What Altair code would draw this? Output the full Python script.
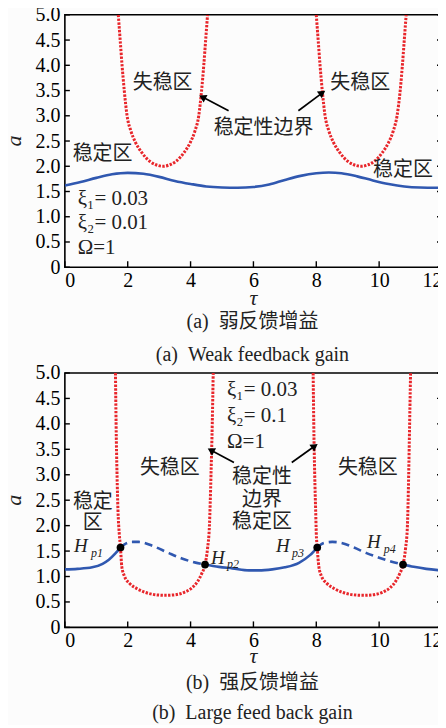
import altair as alt
import pandas as pd

LSERIF = "Liberation Serif, Times New Roman, serif"
SERIF = "Liberation Serif, Noto Sans CJK SC, serif"
CJK = "Noto Sans CJK SC"
BLUE = "#3058b0"
RED = "#e8262b"

# ---------------- panel (a): weak feedback gain ----------------
a_blue_tau = [0, 0.5, 1.0, 1.5, 2.0, 2.5, 3.0, 3.5, 4.0, 4.5, 5.0, 5.5, 6.0, 6.5, 7.0, 7.5, 8.0, 8.4, 8.8, 9.3, 9.8, 10.3, 10.8, 11.3, 12.0]
a_blue_a = [1.62, 1.69, 1.77, 1.84, 1.87, 1.85, 1.79, 1.71, 1.65, 1.60, 1.58, 1.575, 1.59, 1.64, 1.73, 1.81, 1.86, 1.875, 1.86, 1.80, 1.72, 1.65, 1.60, 1.58, 1.575]

a_red1_tau = [1.70, 1.76, 1.82, 1.89, 1.98, 2.10, 2.25, 2.45, 2.70, 2.90, 3.12, 3.34, 3.54, 3.79, 3.99, 4.14, 4.26, 4.35, 4.42, 4.48, 4.54]
a_red1_a = [5.0, 4.5, 4.0, 3.5, 3.0, 2.7, 2.47, 2.27, 2.1, 2.03, 2.0, 2.03, 2.1, 2.27, 2.47, 2.7, 3.0, 3.5, 4.0, 4.5, 5.0]
a_red2_tau = [8.00, 8.06, 8.12, 8.19, 8.28, 8.40, 8.55, 8.75, 9.00, 9.20, 9.43, 9.65, 9.85, 10.10, 10.30, 10.45, 10.57, 10.67, 10.74, 10.80, 10.86]
a_red2_a = [5.0, 4.5, 4.0, 3.5, 3.0, 2.7, 2.47, 2.27, 2.1, 2.03, 2.0, 2.03, 2.1, 2.27, 2.47, 2.7, 3.0, 3.5, 4.0, 4.5, 5.0]

a_cjk_text = ["失稳区", "失稳区", "稳定性边界", "稳定区", "稳定区"]
a_cjk_tau = [3.11, 9.40, 6.32, 1.20, 10.76]
a_cjk_a = [3.64, 3.64, 2.75, 2.25, 1.92]

a_par_text = ["ξ₁= 0.03", "ξ₂= 0.01", "Ω=1"]
a_par_tau = [0.41, 0.41, 0.41]
a_par_a = [1.36, 0.87, 0.375]

a_arrow_tau0 = [5.21, 7.43]
a_arrow_a0 = [3.10, 3.10]
a_arrow_tau1 = [4.41, 8.16]
a_arrow_a1 = [3.36, 3.44]
a_arrow_angle = [297, 54]

# ---------------- panel (b): large feedback gain ----------------
b_blue_segments = {
    "s1": ([0, 0.4, 0.87, 1.2, 1.4, 1.6, 1.77], [1.14, 1.15, 1.18, 1.25, 1.33, 1.45, 1.57], "solid"),
    "d1": ([1.77, 1.95, 2.15, 2.35, 2.8, 3.31, 3.7, 4.05, 4.46], [1.57, 1.65, 1.68, 1.68, 1.6, 1.46, 1.36, 1.29, 1.235], "dash"),
    "s2": ([4.46, 4.9, 5.33, 5.86, 6.17, 6.6, 7.0, 7.45, 7.8, 8.03], [1.235, 1.19, 1.16, 1.12, 1.12, 1.14, 1.18, 1.27, 1.42, 1.57], "solid"),
    "d2": ([8.03, 8.25, 8.51, 8.8, 9.2, 9.6, 10.0, 10.4, 10.76], [1.57, 1.66, 1.68, 1.66, 1.57, 1.46, 1.37, 1.29, 1.235], "dash"),
    "s3": ([10.76, 11.1, 11.5, 12.0], [1.235, 1.19, 1.15, 1.12], "solid"),
}

b_red1_tau = [1.61, 1.63, 1.66, 1.69, 1.73, 1.77, 1.81, 1.90, 2.05, 2.30, 2.60, 2.90, 3.20, 3.50, 3.80, 4.05, 4.22, 4.35, 4.46, 4.54, 4.60, 4.65, 4.69, 4.72]
b_red1_a = [5.0, 4.0, 3.0, 2.3, 1.85, 1.57, 1.2, 1.0, 0.87, 0.76, 0.68, 0.64, 0.63, 0.64, 0.69, 0.78, 0.9, 1.05, 1.235, 1.55, 2.0, 3.0, 4.0, 5.0]
b_red2_tau = [7.90, 7.92, 7.95, 7.98, 8.00, 8.03, 8.08, 8.17, 8.33, 8.58, 8.88, 9.18, 9.50, 9.80, 10.10, 10.35, 10.52, 10.65, 10.76, 10.84, 10.90, 10.94, 10.97, 11.00]
b_red2_a = [5.0, 4.0, 3.0, 2.3, 1.85, 1.57, 1.2, 1.0, 0.87, 0.76, 0.68, 0.64, 0.63, 0.64, 0.69, 0.78, 0.9, 1.05, 1.235, 1.55, 2.0, 3.0, 4.0, 5.0]

b_hopf_tau = [1.77, 4.46, 8.03, 10.76]
b_hopf_a = [1.57, 1.235, 1.57, 1.235]

b_H_tau = [0.29, 4.65, 6.72, 9.61]
b_H_a = [1.59, 1.36, 1.59, 1.67]
b_sub_text = ["p1", "p2", "p3", "p4"]
b_sub_tau = [0.83, 5.16, 7.23, 10.15]
b_sub_a = [1.47, 1.25, 1.47, 1.55]

b_cjk_text = ["失稳区", "失稳区", "稳定性", "边界", "稳定区", "稳定", "区"]
b_cjk_tau = [3.34, 9.64, 6.27, 6.27, 6.27, 0.89, 0.89]
b_cjk_a = [3.14, 3.14, 2.96, 2.51, 2.08, 2.47, 2.06]

b_par_text = ["ξ₁= 0.03", "ξ₂= 0.1", "Ω=1"]
b_par_tau = [5.16, 5.16, 5.16]
b_par_a = [4.67, 4.16, 3.65]

b_arrow_tau0 = [5.38, 7.22]
b_arrow_a0 = [3.24, 3.24]
b_arrow_tau1 = [4.68, 7.92]
b_arrow_a1 = [3.47, 3.55]
b_arrow_angle = [299, 54]

x_ticks = [0, 2, 4, 6, 8, 10, 12]
y_ticks = [0, 0.5, 1.0, 1.5, 2.0, 2.5, 3.0, 3.5, 4.0, 4.5, 5.0]

W = 378
GAP = "\u00a0\u00a0"

XS = alt.Scale(domain=[0, 12], nice=False, zero=False)
YS = alt.Scale(domain=[0, 5], nice=False, zero=False)
XAX = alt.Axis(values=x_ticks, ticks=False, domain=False, grid=False, title=None,
               labelFont=LSERIF, labelFontSize=20, labelColor="black",
               labelPadding=3, labelOverlap=False,
               labelExpr="format(datum.value, 'd')")
YAX = alt.Axis(values=y_ticks, ticks=False, domain=False, grid=False, title=None,
               labelFont=LSERIF, labelFontSize=20, labelColor="black",
               labelPadding=5, labelOverlap=False,
               labelExpr="datum.value == 0 ? '0' : format(datum.value, '.1f')")


def X(f):
    return alt.X(f, scale=XS, axis=XAX)


def Y(f):
    return alt.Y(f, scale=YS, axis=YAX)


def panel(H, blue_df, red_df, pts_df, cjk_df, par_df, arr_df, sub_dfs, captions):
    layers = []
    layers.append(alt.Chart(red_df).mark_line(
        color=RED, strokeWidth=3.0, strokeDash=[2.4, 1.4], clip=True, interpolate="monotone"
    ).encode(x=X("tau:Q"), y=Y("a:Q"), detail="curve:N", order="idx:Q"))

    layers.append(alt.Chart(blue_df).transform_filter("datum.style == 'solid'").mark_line(
        color=BLUE, strokeWidth=2.6, clip=True, interpolate="monotone"
    ).encode(x=X("tau:Q"), y=Y("a:Q"), detail="seg:N", order="idx:Q"))
    if (blue_df["style"] == "dash").any():
        layers.append(alt.Chart(blue_df).transform_filter("datum.style == 'dash'").mark_line(
            color=BLUE, strokeWidth=2.6, strokeDash=[8, 5], clip=True, interpolate="monotone"
        ).encode(x=X("tau:Q"), y=Y("a:Q"), detail="seg:N", order="idx:Q"))

    if pts_df is not None:
        layers.append(alt.Chart(pts_df).mark_point(
            filled=True, color="black", size=60, opacity=1, shape="circle"
        ).encode(x=X("tau:Q"), y=Y("a:Q")))

    # arrows
    layers.append(alt.Chart(arr_df).mark_rule(color="black", strokeWidth=1.7).encode(
        x=X("tau0:Q"), y=Y("a0:Q"), x2="tau1:Q", y2="a1:Q"))
    layers.append(alt.Chart(arr_df).mark_point(
        filled=True, color="black", shape="triangle", size=70, opacity=1
    ).encode(x=X("tau1:Q"), y=Y("a1:Q"), angle=alt.Angle("angle:Q", scale=None)))

    # texts
    layers.append(alt.Chart(cjk_df).mark_text(
        font=CJK, fontSize=20, color="#222", align="center", baseline="middle"
    ).encode(x=X("tau:Q"), y=Y("a:Q"), text="label:N"))
    layers.append(alt.Chart(par_df).mark_text(
        font=LSERIF, fontSize=21, color="#222", align="left", baseline="middle"
    ).encode(x=X("tau:Q"), y=Y("a:Q"), text="label:N"))
    for df, size in sub_dfs:
        layers.append(alt.Chart(df).mark_text(
            font=LSERIF, fontSize=size, fontStyle="italic", color="#222",
            align="left", baseline="middle"
        ).encode(x=X("tau:Q"), y=Y("a:Q"), text="label:N"))

    # inward ticks
    xt = pd.DataFrame({"t": x_ticks})
    yt = pd.DataFrame({"v": y_ticks})
    layers.append(alt.Chart(xt).mark_rule(color="black", strokeWidth=1.4).encode(
        x=X("t:Q"), y=alt.value(H), y2=alt.value(H - 6)))
    layers.append(alt.Chart(yt).mark_rule(color="black", strokeWidth=1.4).encode(
        y=Y("v:Q"), x=alt.value(0), x2=alt.value(5)))
    layers.append(alt.Chart(yt).mark_rule(color="black", strokeWidth=1.4).encode(
        y=Y("v:Q"), x=alt.value(W - 5), x2=alt.value(W)))

    # axis titles and captions
    lab = pd.DataFrame({"k": [0]})
    layers.append(alt.Chart(lab).mark_text(
        font=LSERIF, fontSize=22, fontStyle="italic", angle=270,
        align="center", baseline="middle", color="#222", text="a"
    ).encode(x=alt.value(-51), y=alt.value(H / 2)))
    layers.append(alt.Chart(lab).mark_text(
        font=LSERIF, fontSize=22, fontStyle="italic",
        align="center", baseline="middle", color="#222", text="τ"
    ).encode(x=alt.value(W / 2), y=alt.value(H + captions[0][1])))
    for txt, dy in captions[1:]:
        layers.append(alt.Chart(lab).mark_text(
            font=SERIF, fontSize=20, align="center", baseline="middle", color="#222", text=txt
        ).encode(x=alt.value(W / 2 - 1), y=alt.value(H + dy)))

    return alt.layer(*layers).properties(width=W, height=H)


def red_frame(curves):
    rows = []
    for name, (ts, vs) in curves.items():
        for i, (t, v) in enumerate(zip(ts, vs)):
            rows.append({"curve": name, "idx": i, "tau": t, "a": v})
    return pd.DataFrame(rows)


a_blue = pd.DataFrame({"tau": a_blue_tau, "a": a_blue_a, "seg": "s", "style": "solid",
                       "idx": list(range(len(a_blue_tau)))})
a_red = red_frame({"r1": (a_red1_tau, a_red1_a), "r2": (a_red2_tau, a_red2_a)})
a_cjk = pd.DataFrame({"tau": a_cjk_tau, "a": a_cjk_a, "label": a_cjk_text})
a_par = pd.DataFrame({"tau": a_par_tau, "a": a_par_a, "label": a_par_text})
a_arr = pd.DataFrame({"tau0": a_arrow_tau0, "a0": a_arrow_a0, "tau1": a_arrow_tau1,
                      "a1": a_arrow_a1, "angle": a_arrow_angle})

rows = []
for seg, (ts, vs, st) in b_blue_segments.items():
    for i, (t, v) in enumerate(zip(ts, vs)):
        rows.append({"seg": seg, "style": st, "idx": i, "tau": t, "a": v})
b_blue = pd.DataFrame(rows)
b_red = red_frame({"r1": (b_red1_tau, b_red1_a), "r2": (b_red2_tau, b_red2_a)})
b_pts = pd.DataFrame({"tau": b_hopf_tau, "a": b_hopf_a})
b_cjk = pd.DataFrame({"tau": b_cjk_tau, "a": b_cjk_a, "label": b_cjk_text})
b_par = pd.DataFrame({"tau": b_par_tau, "a": b_par_a, "label": b_par_text})
b_arr = pd.DataFrame({"tau0": b_arrow_tau0, "a0": b_arrow_a0, "tau1": b_arrow_tau1,
                      "a1": b_arrow_a1, "angle": b_arrow_angle})
b_H = pd.DataFrame({"tau": b_H_tau, "a": b_H_a, "label": ["H"] * 4})
b_sub = pd.DataFrame({"tau": b_sub_tau, "a": b_sub_a, "label": b_sub_text})

top = panel(253, a_blue, a_red, None, a_cjk, a_par, a_arr, [],
            [("τ", 31), ("(a)" + GAP + "弱反馈增益", 55), ("(a)" + GAP + "Weak feedback gain", 88)])
bottom = panel(255, b_blue, b_red, b_pts, b_cjk, b_par, b_arr, [(b_H, 19), (b_sub, 12)],
               [("τ", 29), ("(b)" + GAP + "强反馈增益", 56), ("(b)" + GAP + "Large feed back gain", 86)])

chart = alt.vconcat(top, bottom, spacing=106, bounds="flush").properties(
    padding={"left": -6, "top": -5, "right": -6, "bottom": 0},
    background="#fcfcfc",
).configure_view(stroke="black", strokeWidth=1.6)

chart.save("out.html", embed_options={"renderer": "svg", "actions": False})
